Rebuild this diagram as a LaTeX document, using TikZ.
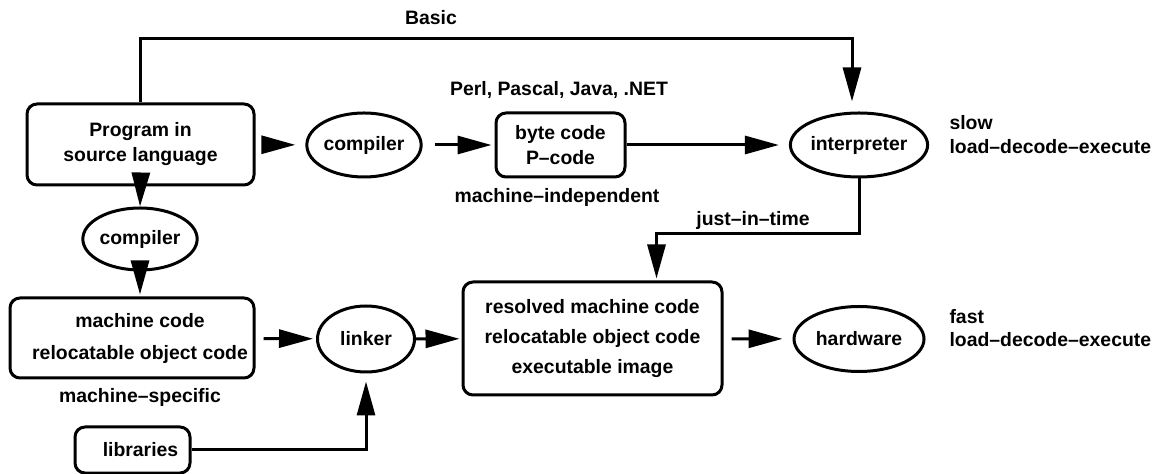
\documentclass[tikz,border=0pt]{standalone}
\usepackage{fontspec}
\setmainfont{Liberation Sans}
\usepackage{tikz}
\usetikzlibrary{arrows.meta, shapes.geometric}
\tikzset{
->, % every connector is directed
>={Triangle[length=17pt, width=9pt]}, % big filled heads
every node/.style={font=\fontsize{9.7}{12.5}\selectfont\bfseries}, % bold sans text everywhere
box/.style={draw, rounded corners=5pt, align=center, inner sep=0pt}, % rounded boxes
oval/.style={draw, ellipse, inner sep=0pt}, % tools as ellipses
note/.style={align=left, anchor=west, inner sep=0pt}, % side remarks
}

\begin{document}
\begin{tikzpicture}[x=0.5pt, y=-0.5pt, line width=1.5pt]
\useasboundingbox (0,0) rectangle (1159,474);

% top row
\node[box, minimum width=113.5pt, minimum height=40.5pt] (prog) at (140.5,144.5) {Program in\\source language};
\node[oval, minimum width=47pt, minimum height=32pt] (comp) at (364,145) {compiler};
\node[box, minimum width=64.5pt, minimum height=32pt] (bytecode) at (560.5,145) {byte code\\P--code};
\node[oval, minimum width=65pt, minimum height=32pt] (interp) at (859,145) {interpreter};

% labels
\node (basic) at (431,18) {Basic};
\node (langs) at (559,90) {Perl, Pascal, Java, .NET};
\node (indep) at (557,197) {machine--independent};
\node[note] (slow) at (948,135) {slow\\[-0.5pt]load--decode--execute};
\node (jit) at (753,220) {just--in--time};
\node (spec) at (140,397) {machine--specific};
\node[note] (fast) at (948,328) {fast\\[-1pt]load--decode--execute};

% bottom part
\node[oval, minimum width=48pt, minimum height=31pt] (comp2) at (140,239) {compiler};
\node[box, minimum width=122pt, minimum height=40pt] (mcode) at (132,338) {\hspace*{8pt}machine code\\[3.5pt]\hspace*{8pt}relocatable object code};
\node[oval, minimum width=48.5pt, minimum height=33pt] (linker) at (366,339) {linker};
\node[box, minimum width=129.5pt, minimum height=56.5pt] (resolved) at (592.5,338.5) {resolved machine code\\[2.5pt]relocatable object code\\[2.5pt]executable image};
\node[oval, minimum width=65pt, minimum height=32.5pt] (hw) at (859,339) {hardware};
\node[box, minimum width=57.5pt, minimum height=23pt] (libs) at (132.5,450) {\hspace*{8pt}libraries};

% connectors
\draw[shorten >=5pt] (prog.north) -- ++(0,-64) -| ([xshift=-3.5pt]interp.north);
\draw[shorten <=4pt, shorten >=5pt] (prog) -- (comp);
\draw[shorten <=6pt, shorten >=1.5pt] (comp) -- (bytecode);
\draw[shorten >=5pt] (bytecode) -- (interp);
\draw[shorten >=1pt] (interp.south) -- ++(0,55) -| ([xshift=32pt]resolved.north);
\draw (prog.south) -- (comp2.north);
\draw[shorten >=1pt] (comp2.south) -- (comp2.south |- mcode.north);
\draw[shorten <=4pt, shorten >=1.5pt] (mcode) -- (linker);
\draw[shorten >=1pt] (linker) -- (resolved);
\draw[shorten <=4pt, shorten >=5pt] (resolved) -- (hw);
\draw[shorten >=4pt] (libs.east) -| (linker.south);
\end{tikzpicture}
\end{document}
